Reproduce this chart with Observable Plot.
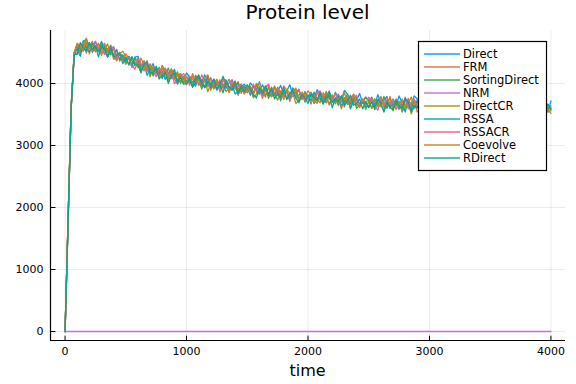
<!DOCTYPE html>
<html>
<head>
<meta charset="utf-8">
<script src="https://cdn.jsdelivr.net/npm/d3@7"></script>
<script src="https://cdn.jsdelivr.net/npm/@observablehq/plot@0.6"></script>
<style>
  html, body { margin: 0; padding: 0; background: #fff; }
  #chart { width: 576px; height: 384px; }
</style>
</head>
<body>
<div id="chart"></div>
<script>
// ---- data ----
const seriesNames = ["Direct","FRM","SortingDirect","NRM","DirectCR","RSSA","RSSACR","Coevolve","RDirect"];
const seriesColors = ["#009AFA","#E36F47","#3EA44E","#C371D2","#AC8E18","#00AAAE","#ED5E93","#C68225","#00A98D"];
const xTicks = [0, 1000, 2000, 3000, 4000];
const yTicks = [0, 1000, 2000, 3000, 4000];
const sampleTimes = Array.from({length: 161}, (_, i) => i * 25); // 0..4000

const direct = [
0,1780,3630,4500,4570,4500,4670,4720,4580,4600,4680,4510,4550,4610,4430,4550,4590,4440,4500,4380,
4370,4430,4280,4420,4440,4290,4220,4310,4240,4320,4160,4220,4080,4240,4170,4110,4230,4040,4160,4070,
4170,4100,4020,3960,4110,4020,4140,4010,4090,3930,4020,3950,4120,3920,4010,4060,3930,3860,3990,3930,
3870,4010,3950,3900,4030,3840,3950,3980,3790,3940,3870,3970,3820,3880,3980,3810,3850,3910,3750,3870,
3760,3860,3770,3900,3830,3690,3850,3770,3710,3860,3770,3740,3890,3830,3670,3770,3730,3840,3680,3780,
3710,3780,3650,3820,3680,3730,3790,3600,3730,3650,3800,3690,3740,3630,3680,3800,3750,3590,3720,3630,
3650,3700,3560,3620,3750,3690,3580,3770,3600,3660,3560,3710,3630,3750,3620,3700,3530,3580,3660,3720,
3670,3550,3700,3630,3590,3750,3650,3580,3710,3610,3670,3510,3700,3660,3550,3730,3590,3640,3690,3540,
3720];
const frm = [
0,1830,3580,4460,4650,4550,4520,4640,4590,4680,4530,4590,4450,4610,4540,4470,4590,4390,4500,4400,
4480,4400,4300,4230,4360,4260,4370,4230,4290,4120,4210,4130,4290,4080,4170,4220,4070,4000,4130,4070,
3980,4120,4070,4010,4140,3950,4050,4080,3890,4040,3970,4060,3920,3980,4070,3900,3940,4000,3840,3950,
3850,3940,3850,3980,3910,3760,3930,3840,3790,3930,3840,3810,3960,3890,3740,3830,3800,3900,3740,3840,
3760,3840,3700,3880,3730,3780,3830,3650,3770,3690,3830,3730,3770,3660,3700,3830,3770,3610,3730,3650,
3690,3730,3590,3640,3770,3710,3610,3790,3620,3680,3580,3720,3640,3760,3630,3700,3540,3590,3670,3720,
3670,3550,3700,3630,3590,3750,3640,3570,3710,3610,3670,3510,3700,3660,3550,3730,3580,3630,3680,3530,
3660,3560,3710,3600,3630,3530,3680,3740,3570,3600,3680,3530,3580,3660,3490,3630,3690,3560,3640,3540,
3580];
const sortingDirect = [
0,1790,3610,4470,4590,4540,4690,4580,4660,4500,4600,4520,4680,4470,4560,4600,4450,4370,4490,4420,
4310,4440,4370,4300,4410,4210,4300,4320,4110,4250,4180,4260,4110,4160,4250,4080,4100,4160,4000,4110,
4000,4090,4010,4130,4060,3910,4070,3980,3930,4070,3980,3940,4100,4030,3870,3960,3930,4030,3870,3960,
3890,3960,3820,4000,3850,3890,3950,3760,3890,3800,3940,3840,3880,3760,3810,3930,3880,3710,3830,3750,
3780,3830,3680,3740,3860,3800,3690,3880,3700,3760,3650,3800,3710,3830,3690,3770,3600,3650,3720,3780,
3730,3600,3750,3670,3630,3790,3690,3610,3750,3650,3710,3540,3730,3690,3580,3750,3610,3660,3710,3550,
3680,3580,3730,3620,3650,3550,3690,3750,3590,3620,3700,3550,3600,3680,3510,3650,3700,3570,3650,3550,
3570,3650,3520,3680,3730,3600,3550,3660,3600,3700,3550,3630,3500,3680,3620,3570,3710,3530,3660,3580,
3620];
const nrmTimes = [0, 4000];
const nrm = [0, 0];
const directCR = [
0,1820,3590,4490,4640,4490,4620,4670,4480,4630,4570,4650,4500,4550,4640,4460,4480,4530,4360,4460,
4330,4410,4310,4420,4330,4170,4320,4220,4150,4280,4190,4140,4290,4210,4050,4140,4090,4190,4030,4120,
4010,4080,3950,4120,3970,4010,4060,3870,4000,3910,4050,3940,3990,3870,3910,4030,3980,3810,3930,3840,
3880,3920,3770,3830,3950,3880,3780,3960,3790,3840,3730,3880,3790,3900,3770,3840,3680,3720,3790,3850,
3790,3670,3810,3740,3690,3850,3740,3670,3800,3700,3750,3590,3770,3730,3610,3790,3640,3690,3730,3580,
3710,3600,3750,3630,3660,3560,3710,3760,3600,3630,3710,3550,3600,3680,3510,3640,3700,3570,3650,3540,
3560,3640,3510,3670,3720,3590,3530,3640,3590,3690,3540,3620,3490,3670,3610,3560,3690,3510,3640,3560,
3670,3610,3530,3480,3640,3560,3690,3570,3640,3490,3590,3530,3700,3510,3610,3670,3540,3480,3620,3570,
3520];
const rssa = [
0,1770,3620,4480,4550,4440,4630,4560,4510,4650,4570,4520,4670,4590,4430,4510,4460,4550,4380,4460,
4360,4420,4270,4430,4260,4290,4330,4130,4240,4140,4280,4160,4200,4070,4110,4230,4160,3990,4110,4020,
4050,4090,3950,4000,4120,4050,3940,4120,3950,4000,3890,4030,3950,4060,3920,3990,3830,3870,3940,3990,
3940,3810,3950,3880,3830,3980,3880,3800,3940,3830,3880,3720,3900,3850,3740,3910,3770,3810,3850,3700,
3820,3720,3860,3750,3770,3670,3810,3870,3700,3730,3800,3650,3690,3770,3590,3730,3780,3650,3720,3620,
3640,3710,3580,3730,3780,3650,3600,3700,3650,3750,3600,3670,3540,3720,3660,3600,3740,3560,3690,3600,
3710,3650,3570,3520,3680,3600,3720,3600,3680,3530,3630,3570,3740,3550,3650,3710,3570,3510,3650,3600,
3520,3670,3620,3570,3710,3530,3640,3680,3480,3640,3580,3680,3540,3610,3710,3550,3590,3660,3510,3630,
3600];
const rssaCR = [
0,1800,3600,4470,4500,4580,4660,4490,4620,4530,4680,4560,4600,4470,4510,4620,4550,4370,4480,4380,
4390,4420,4260,4300,4400,4320,4200,4370,4180,4220,4110,4240,4150,4250,4110,4180,4000,4040,4110,4160,
4100,3970,4120,4040,3990,4140,4030,3950,4090,3980,4030,3860,4050,4000,3880,4050,3910,3950,3990,3830,
3960,3850,3990,3880,3900,3790,3940,3990,3830,3850,3920,3770,3810,3880,3710,3840,3900,3760,3830,3730,
3740,3820,3680,3840,3880,3750,3690,3800,3740,3840,3680,3760,3620,3800,3730,3680,3810,3630,3750,3670,
3780,3710,3630,3570,3730,3650,3780,3650,3730,3580,3680,3610,3780,3590,3690,3740,3610,3550,3690,3630,
3550,3700,3650,3600,3740,3560,3660,3700,3510,3670,3610,3710,3570,3640,3740,3580,3610,3680,3530,3650,
3550,3650,3570,3700,3640,3500,3670,3590,3530,3680,3600,3570,3730,3670,3520,3620,3590,3700,3550,3650,
3640];
const coevolve = [
0,1810,3620,4500,4640,4610,4530,4730,4560,4610,4510,4640,4550,4650,4510,4570,4390,4420,4480,4520,
4440,4300,4430,4340,4270,4410,4290,4200,4320,4200,4250,4070,4250,4190,4070,4240,4080,4120,4160,4000,
4120,4010,4160,4040,4060,3950,4090,4140,3980,4000,4070,3910,3960,4030,3850,3980,4040,3900,3970,3860,
3880,3950,3810,3970,4010,3870,3820,3920,3870,3960,3800,3880,3740,3910,3850,3790,3930,3740,3860,3780,
3880,3820,3730,3680,3830,3750,3870,3750,3820,3670,3760,3700,3860,3670,3760,3820,3680,3620,3750,3700,
3620,3760,3710,3650,3790,3610,3720,3750,3560,3720,3660,3750,3610,3680,3780,3610,3650,3720,3570,3680,
3580,3680,3600,3730,3670,3530,3690,3610,3560,3710,3630,3600,3760,3700,3550,3650,3610,3720,3570,3670,
3600,3680,3550,3730,3590,3640,3700,3520,3640,3560,3710,3610,3660,3550,3600,3730,3680,3520,3650,3570,
3560];
const rDirect = [
0,1790,3590,4470,4470,4660,4580,4520,4660,4550,4610,4430,4610,4550,4430,4590,4430,4460,4490,4320,
4420,4300,4430,4300,4300,4180,4310,4350,4170,4180,4250,4080,4120,4180,4000,4130,4170,4030,4100,3990,
4000,4070,3940,4090,4130,3990,3930,4030,3980,4070,3910,3980,3850,4020,3950,3890,4030,3840,3960,3870,
3980,3910,3820,3770,3920,3830,3960,3830,3910,3750,3840,3780,3940,3740,3840,3890,3760,3690,3820,3770,
3680,3830,3770,3720,3850,3670,3770,3810,3610,3770,3700,3800,3650,3720,3810,3650,3680,3750,3590,3710,
3610,3700,3620,3740,3680,3540,3710,3620,3570,3720,3640,3600,3760,3700,3550,3640,3610,3720,3570,3660,
3590,3670,3540,3720,3580,3630,3680,3500,3630,3550,3700,3600,3650,3540,3590,3720,3660,3500,3630,3550,
3590,3640,3500,3560,3690,3630,3530,3720,3540,3600,3500,3650,3570,3690,3560,3640,3480,3530,3610,3670,
3580];

const seriesValues = {
  "Direct": [sampleTimes, direct],
  "FRM": [sampleTimes, frm],
  "SortingDirect": [sampleTimes, sortingDirect],
  "NRM": [nrmTimes, nrm],
  "DirectCR": [sampleTimes, directCR],
  "RSSA": [sampleTimes, rssa],
  "RSSACR": [sampleTimes, rssaCR],
  "Coevolve": [sampleTimes, coevolve],
  "RDirect": [sampleTimes, rDirect]
};

const rows = [];
for (const name of seriesNames) {
  const [ts, vs] = seriesValues[name];
  vs.forEach((v, i) => rows.push({series: name, t: ts[i], v}));
}

// ---- chart ----
const W = 576, H = 384;
const mL = 50, mR = 11, mT = 30, mB = 44;
const xDomain = [-120, 4120], yDomain = [-145, 4855];
const font = "DejaVu Sans, Liberation Sans, sans-serif";

const chart = Plot.plot({
  width: W, height: H,
  marginLeft: mL, marginRight: mR, marginTop: mT, marginBottom: mB,
  style: {fontFamily: font, fontSize: "11px", background: "#fff", color: "#000"},
  x: {domain: xDomain, label: null},
  y: {domain: yDomain, label: null},
  color: {domain: seriesNames, range: seriesColors},
  marks: [
    Plot.gridX(xTicks, {stroke: "#000", strokeOpacity: 0.1, strokeWidth: 0.8}),
    Plot.gridY(yTicks, {stroke: "#000", strokeOpacity: 0.1, strokeWidth: 0.8}),
    Plot.line(rows, {x: "t", y: "v", z: "series", stroke: "series", strokeWidth: 1.3}),
    Plot.axisX(xTicks, {tickSize: 0, tickPadding: 7, tickFormat: d => String(d), fontSize: 11, label: null}),
    Plot.axisY(yTicks, {tickSize: 0, tickPadding: 7, tickFormat: d => String(d), fontSize: 11, label: null}),
    Plot.ruleX(xTicks, {y1: yDomain[0], y2: yDomain[0] + 70, stroke: "#000", strokeWidth: 1}),
    Plot.ruleY(yTicks, {x1: xDomain[0], x2: xDomain[0] + 45, stroke: "#000", strokeWidth: 1}),
    Plot.ruleX([xDomain[0]], {stroke: "#000", strokeWidth: 1.2}),
    Plot.ruleY([yDomain[0]], {stroke: "#000", strokeWidth: 1.2})
  ]
});

const svg = d3.select(chart);
// title
svg.append("text").attr("x", (mL + W - mR) / 2).attr("y", 19)
  .attr("text-anchor", "middle").attr("font-family", font).attr("font-size", 20)
  .attr("fill", "#000").text("Protein level");
// x label
svg.append("text").attr("x", (mL + W - mR) / 2).attr("y", 376)
  .attr("text-anchor", "middle").attr("font-family", font).attr("font-size", 16)
  .attr("fill", "#000").text("time");
// legend
const lg = svg.append("g").attr("text-anchor", "start");
lg.append("rect").attr("x", 418.5).attr("y", 41.5).attr("width", 128).attr("height", 129)
  .attr("fill", "#fff").attr("stroke", "#000").attr("stroke-width", 1.2);
seriesNames.forEach((name, i) => {
  const y = 54 + i * 13;
  lg.append("line").attr("x1", 424).attr("x2", 460).attr("y1", y).attr("y2", y)
    .attr("stroke", seriesColors[i]).attr("stroke-width", 2).attr("stroke-opacity", 0.7);
  lg.append("text").attr("x", 463).attr("y", y).attr("dy", "0.35em")
    .attr("text-anchor", "start")
    .attr("font-family", font).attr("font-size", 11.5).attr("fill", "#000").text(name);
});

document.getElementById("chart").appendChild(chart);
</script>
</body>
</html>
